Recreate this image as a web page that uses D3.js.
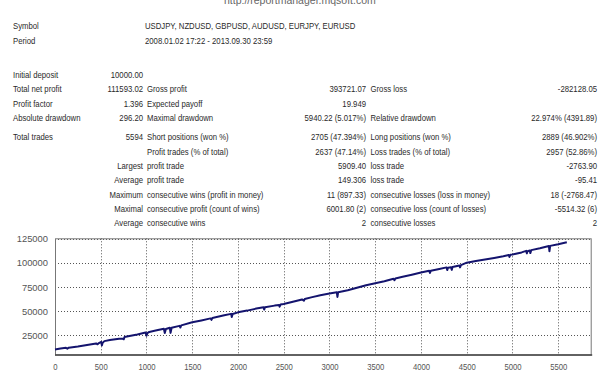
<!DOCTYPE html>
<html><head><meta charset="utf-8">
<script src="https://cdn.jsdelivr.net/npm/d3@7"></script>
<style>
html,body{margin:0;padding:0;background:#fff;}
svg{display:block;font-family:"Liberation Sans",Arial,sans-serif;}
</style></head>
<body>
<script>
// ---------- data ----------
const siteUrl = "http://reportmanager.mqsoft.com";
const headerLabels = ["Symbol", "Period"];
const headerValues = ["USDJPY, NZDUSD, GBPUSD, AUDUSD, EURJPY, EURUSD", "2008.01.02 17:22 - 2013.09.30 23:59"];

const summaryRows = [
  ["Initial deposit", "10000.00", "", "", "", ""],
  ["Total net profit", "111593.02", "Gross profit", "393721.07", "Gross loss", "-282128.05"],
  ["Profit factor", "1.396", "Expected payoff", "19.949", "", ""],
  ["Absolute drawdown", "296.20", "Maximal drawdown", "5940.22 (5.017%)", "Relative drawdown", "22.974% (4391.89)"]
];
const tradeRows = [
  ["Total trades", "5594", "Short positions (won %)", "2705 (47.394%)", "Long positions (won %)", "2889 (46.902%)"],
  ["", "", "Profit trades (% of total)", "2637 (47.14%)", "Loss trades (% of total)", "2957 (52.86%)"],
  ["", "Largest", "profit trade", "5909.40", "loss trade", "-2763.90"],
  ["", "Average", "profit trade", "149.306", "loss trade", "-95.41"],
  ["", "Maximum", "consecutive wins (profit in money)", "11 (897.33)", "consecutive losses (loss in money)", "18 (-2768.47)"],
  ["", "Maximal", "consecutive profit (count of wins)", "6001.80 (2)", "consecutive loss (count of losses)", "-5514.32 (6)"],
  ["", "Average", "consecutive wins", "2", "consecutive losses", "2"]
];

const xTicks = [0, 500, 1000, 1500, 2000, 2500, 3000, 3500, 4000, 4500, 5000, 5500];
const yTicks = [25000, 50000, 75000, 100000, 125000];

const tradeNo = [0,60,120,135,150,250,350,450,465,480,505,512,520,540,600,700,740,752,760,800,900,990,1000,1010,1030,1100,1190,1200,1212,1255,1263,1275,1360,1370,1380,1500,1600,1700,1710,1720,1850,1925,1932,1942,2000,2100,2200,2280,2286,2295,2400,2450,2455,2465,2500,2600,2700,2720,2730,2800,2900,3000,3080,3087,3095,3200,3300,3400,3500,3600,3700,3710,3720,3800,3900,4000,4090,4098,4108,4200,4280,4287,4295,4330,4336,4345,4420,4427,4437,4500,4600,4700,4800,4900,4960,4967,4977,5000,5100,5150,5157,5165,5190,5195,5205,5300,5398,5404,5412,5500,5594];
const balance = [10000,10900,11600,10800,11800,13000,14500,16200,15300,16600,17800,14200,16800,18600,19800,21000,21200,20500,23000,23800,25600,27500,24200,27000,28200,29600,31500,27000,31200,32500,27200,32600,34500,32800,35000,38200,40200,42300,40800,42700,45500,47000,43800,46800,48600,50400,52500,53800,51500,54000,55600,56200,54500,56700,57300,59600,62000,60800,62400,64200,66400,68200,69500,64600,69600,71600,74200,76800,78800,81000,83500,82000,83800,85700,87800,90000,91800,89600,92000,93800,95400,92600,95000,95600,92800,95800,97400,95400,97800,100300,102000,103700,105300,107000,108300,106300,108500,108800,111000,112600,110000,112200,113000,110300,113400,115400,117700,112200,117800,119500,121600];

// ---------- drawing ----------
const W = 602, H = 374;
const svg = d3.select("body").append("svg").attr("width", W).attr("height", H);

const FS = 8.6, SX = 0.9, TXT = "#2a2a2a";
function txt(px, py, s, anchor) {
  if (!s) return;
  svg.append("text")
    .attr("transform", `translate(${px},${py}) scale(${SX},1)`)
    .attr("text-anchor", anchor)
    .attr("font-size", FS)
    .attr("fill", TXT)
    .text(s);
}

// url at top (cut off)
svg.append("text").attr("x", 224).attr("y", 4).attr("font-size", 10.5)
  .attr("fill", "#666").text(siteUrl);

headerLabels.forEach((l, i) => {
  const py = 25.5 + i * 15.2 + 3;
  txt(13, py, l, "start");
  txt(145, py, headerValues[i], "start");
});

const colX = [13, 143, 147, 366, 370.5, 597];
const colA = ["start", "end", "start", "end", "start", "end"];
function drawRows(rows, y0, step) {
  rows.forEach((r, i) => {
    const py = y0 + i * step + 3;
    r.forEach((c, j) => txt(colX[j], py, c, colA[j]));
  });
}
drawRows(summaryRows, 75, 14.35);
drawRows(tradeRows, 137.3, 14.3);

// chart
const x = d3.scaleLinear().domain([0, 5866]).range([55, 591.7]);
const y = d3.scaleLinear().domain([4170, 125700]).range([355, 238.3]);
const pTop = y.range()[1], pBot = y.range()[0], pLeft = x.range()[0], pRight = x.range()[1];

// grid
const grid = svg.append("g").attr("stroke", "#555").attr("stroke-dasharray", "1,2").attr("stroke-width", 1);
grid.selectAll("line.v").data(xTicks.filter(d => d > 0)).join("line")
  .attr("x1", d => Math.round(x(d)) + 0.5).attr("x2", d => Math.round(x(d)) + 0.5)
  .attr("y1", pTop).attr("y2", pBot);
grid.selectAll("line.h").data(yTicks).join("line")
  .attr("x1", pLeft).attr("x2", pRight)
  .attr("y1", d => Math.round(y(d)) + 0.5).attr("y2", d => Math.round(y(d)) + 0.5);

// frame
svg.append("rect").attr("x", pLeft + 0.5).attr("y", pTop + 0.5)
  .attr("width", pRight - pLeft - 1).attr("height", pBot - pTop - 0.5)
  .attr("fill", "none").attr("stroke", "#777").attr("stroke-width", 1);
svg.append("line").attr("x1", pLeft).attr("x2", pRight + 0.5).attr("y1", pBot).attr("y2", pBot)
  .attr("stroke", "#444").attr("stroke-width", 1.5);

// axes labels
const ya = svg.append("g").attr("transform", `translate(${pLeft},0)`)
  .call(d3.axisLeft(y).tickValues(yTicks).tickSize(0).tickPadding(7).tickFormat(d3.format("d")));
ya.select(".domain").remove();
ya.selectAll("text").attr("font-size", 9.4).attr("fill", "#555").attr("font-family", "Liberation Sans, Arial");

const xa = svg.append("g").attr("transform", `translate(0,${pBot})`)
  .call(d3.axisBottom(x).tickValues(xTicks).tickSize(0).tickPadding(8).tickFormat(d3.format("d")));
xa.select(".domain").remove();
xa.selectAll("text").attr("font-size", 9.4).attr("fill", "#555").attr("font-family", "Liberation Sans, Arial")
  .attr("transform", "scale(0.82,1)");

// balance line
const pts = tradeNo.map((t, i) => [t, balance[i]]);
svg.append("path").datum(pts)
  .attr("fill", "none").attr("stroke", "#14146e").attr("stroke-width", 2)
  .attr("stroke-linejoin", "round")
  .attr("d", d3.line().x(d => x(d[0])).y(d => y(d[1])));
</script>
</body></html>
